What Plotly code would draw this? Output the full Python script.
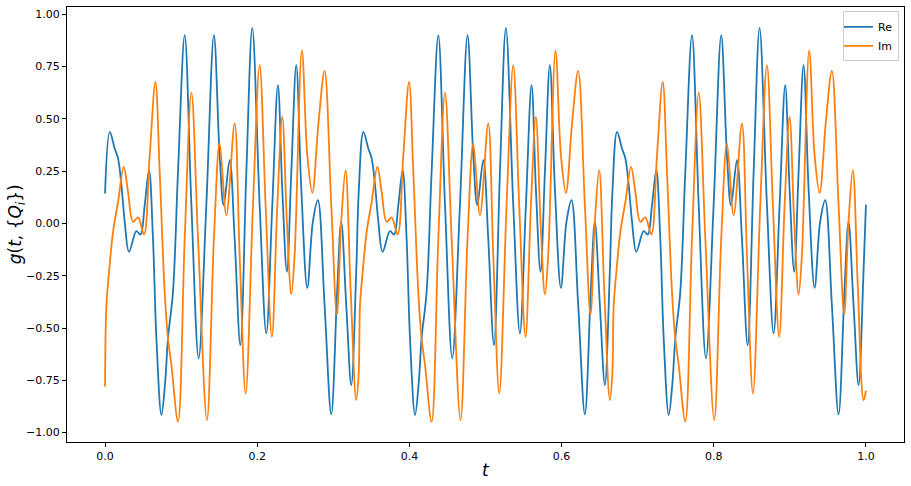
import plotly.graph_objects as go

# ---- data ----
t_re = [
    0.0000, 0.0062, 0.0127, 0.0171, 0.0215, 0.0259, 0.0315, 0.0412, 0.0465, 0.0521,
    0.0578, 0.0630, 0.0675, 0.0741, 0.0790, 0.0827, 0.0893, 0.0959, 0.1047, 0.1135,
    0.1230, 0.1331, 0.1431, 0.1506, 0.1559, 0.1638, 0.1703, 0.1778, 0.1857, 0.1935,
    0.2032, 0.2119, 0.2198, 0.2272, 0.2329, 0.2390, 0.2448, 0.2513, 0.2579, 0.2658,
    0.2731, 0.2797, 0.2885, 0.2973, 0.3052, 0.3104, 0.3170, 0.3236, 0.3301,
    0.3333, 0.3395, 0.3460, 0.3504, 0.3548, 0.3592, 0.3648, 0.3745, 0.3798, 0.3854,
    0.3911, 0.3963, 0.4008, 0.4074, 0.4123, 0.4160, 0.4226, 0.4292, 0.4380, 0.4468,
    0.4563, 0.4664, 0.4764, 0.4839, 0.4892, 0.4971, 0.5036, 0.5111, 0.5190, 0.5268,
    0.5365, 0.5452, 0.5531, 0.5605, 0.5662, 0.5723, 0.5781, 0.5846, 0.5912, 0.5991,
    0.6064, 0.6130, 0.6218, 0.6306, 0.6385, 0.6437, 0.6503, 0.6569, 0.6634,
    0.6667, 0.6729, 0.6794, 0.6838, 0.6882, 0.6926, 0.6982, 0.7079, 0.7132, 0.7188,
    0.7245, 0.7297, 0.7342, 0.7408, 0.7457, 0.7494, 0.7560, 0.7626, 0.7714, 0.7802,
    0.7897, 0.7998, 0.8098, 0.8173, 0.8226, 0.8305, 0.8370, 0.8445, 0.8524, 0.8602,
    0.8699, 0.8786, 0.8865, 0.8939, 0.8996, 0.9057, 0.9115, 0.9180, 0.9246, 0.9325,
    0.9398, 0.9464, 0.9552, 0.9640, 0.9719, 0.9771, 0.9837, 0.9903, 0.9968,
    1.0000,
]
re_vals = [
    0.143, 0.438, 0.358, 0.311, 0.183, 0.008, -0.136, -0.037, -0.053, 0.087,
    0.255, -0.072, -0.550, -0.916, -0.760, -0.550, -0.327, 0.247, 0.900, 0.087,
    -0.645, 0.087, 0.900, 0.327, 0.087, 0.303, -0.072, -0.582, 0.247, 0.935,
    0.087, -0.526, 0.087, 0.661, 0.167, -0.231, 0.247, 0.757, 0.167, -0.308,
    0.008, 0.111, -0.390, -0.913, -0.311, 0.008, -0.390, -0.773, -0.231,
    0.143, 0.438, 0.358, 0.311, 0.183, 0.008, -0.136, -0.037, -0.053, 0.087,
    0.255, -0.072, -0.550, -0.916, -0.760, -0.550, -0.327, 0.247, 0.900, 0.087,
    -0.645, 0.087, 0.900, 0.327, 0.087, 0.303, -0.072, -0.582, 0.247, 0.935,
    0.087, -0.526, 0.087, 0.661, 0.167, -0.231, 0.247, 0.757, 0.167, -0.308,
    0.008, 0.111, -0.390, -0.913, -0.311, 0.008, -0.390, -0.773, -0.231,
    0.143, 0.438, 0.358, 0.311, 0.183, 0.008, -0.136, -0.037, -0.053, 0.087,
    0.255, -0.072, -0.550, -0.916, -0.760, -0.550, -0.327, 0.247, 0.900, 0.087,
    -0.645, 0.087, 0.900, 0.327, 0.087, 0.303, -0.072, -0.582, 0.247, 0.935,
    0.087, -0.526, 0.087, 0.661, 0.167, -0.231, 0.247, 0.757, 0.167, -0.308,
    0.008, 0.111, -0.390, -0.913, -0.311, 0.008, -0.390, -0.773, -0.231,
    0.090,
]

t_im = [
    0.0000, 0.0018, 0.0053, 0.0105, 0.0171, 0.0246, 0.0302, 0.0368, 0.0433, 0.0512,
    0.0587, 0.0662, 0.0718, 0.0784, 0.0827, 0.0872, 0.0959, 0.1047, 0.1135, 0.1222,
    0.1339, 0.1431, 0.1506, 0.1594, 0.1703, 0.1769, 0.1848, 0.1944, 0.2032, 0.2110,
    0.2193, 0.2264, 0.2329, 0.2390, 0.2448, 0.2491, 0.2587, 0.2658, 0.2724, 0.2806,
    0.2885, 0.2973, 0.3047, 0.3104, 0.3161, 0.3227, 0.3301,
    0.3333, 0.3351, 0.3386, 0.3438, 0.3504, 0.3579, 0.3635, 0.3701, 0.3766, 0.3845,
    0.3920, 0.3995, 0.4051, 0.4117, 0.4160, 0.4205, 0.4292, 0.4380, 0.4468, 0.4555,
    0.4672, 0.4764, 0.4839, 0.4927, 0.5036, 0.5102, 0.5181, 0.5277, 0.5365, 0.5443,
    0.5526, 0.5597, 0.5662, 0.5723, 0.5781, 0.5824, 0.5920, 0.5991, 0.6057, 0.6139,
    0.6218, 0.6306, 0.6380, 0.6437, 0.6494, 0.6560, 0.6634,
    0.6667, 0.6685, 0.6720, 0.6772, 0.6838, 0.6913, 0.6969, 0.7035, 0.7100, 0.7179,
    0.7254, 0.7329, 0.7385, 0.7451, 0.7494, 0.7539, 0.7626, 0.7714, 0.7802, 0.7889,
    0.8006, 0.8098, 0.8173, 0.8261, 0.8370, 0.8436, 0.8515, 0.8611, 0.8699, 0.8777,
    0.8860, 0.8931, 0.8996, 0.9057, 0.9115, 0.9158, 0.9254, 0.9325, 0.9391, 0.9473,
    0.9552, 0.9640, 0.9714, 0.9771, 0.9828, 0.9894, 0.9968,
    1.0000,
]
im_vals = [
    -0.780, -0.390, -0.231, -0.040, 0.103, 0.271, 0.151, 0.008, 0.029, -0.053,
    0.327, 0.677, 0.247, -0.330, -0.550, -0.677, -0.948, -0.072, 0.626, -0.072,
    -0.940, -0.072, 0.382, 0.040, 0.478, -0.152, -0.813, 0.087, 0.757, 0.087,
    -0.542, 0.087, 0.510, 0.008, -0.339, -0.152, 0.828, 0.327, 0.146, 0.486,
    0.729, 0.087, -0.435, 0.008, 0.255, -0.311, -0.845,
    -0.720, -0.390, -0.231, -0.040, 0.103, 0.271, 0.151, 0.008, 0.029, -0.053,
    0.327, 0.677, 0.247, -0.330, -0.550, -0.677, -0.948, -0.072, 0.626, -0.072,
    -0.940, -0.072, 0.382, 0.040, 0.478, -0.152, -0.813, 0.087, 0.757, 0.087,
    -0.542, 0.087, 0.510, 0.008, -0.339, -0.152, 0.828, 0.327, 0.146, 0.486,
    0.729, 0.087, -0.435, 0.008, 0.255, -0.311, -0.845,
    -0.720, -0.390, -0.231, -0.040, 0.103, 0.271, 0.151, 0.008, 0.029, -0.053,
    0.327, 0.677, 0.247, -0.330, -0.550, -0.677, -0.948, -0.072, 0.626, -0.072,
    -0.940, -0.072, 0.382, 0.040, 0.478, -0.152, -0.813, 0.087, 0.757, 0.087,
    -0.542, 0.087, 0.510, 0.008, -0.339, -0.152, 0.828, 0.327, 0.146, 0.486,
    0.729, 0.087, -0.435, 0.008, 0.255, -0.311, -0.845,
    -0.800,
]

x_tickvals = [0.0, 0.2, 0.4, 0.6, 0.8, 1.0]
x_ticktext = ["0.0", "0.2", "0.4", "0.6", "0.8", "1.0"]
y_tickvals = [-1.0, -0.75, -0.5, -0.25, 0.0, 0.25, 0.5, 0.75, 1.0]
y_ticktext = ["\u22121.00", "\u22120.75", "\u22120.50", "\u22120.25", "0.00",
              "0.25", "0.50", "0.75", "1.00"]

series_names = ["Re", "Im"]
series_colors = ["#1f77b4", "#ff7f0e"]

FONT = "DejaVu Sans"

fig = go.Figure()
fig.add_trace(go.Scatter(x=t_re, y=re_vals, mode="lines", name=series_names[0],
                         line=dict(color=series_colors[0], width=1.8,
                                   shape="spline", smoothing=1.0)))
fig.add_trace(go.Scatter(x=t_im, y=im_vals, mode="lines", name=series_names[1],
                         line=dict(color=series_colors[1], width=1.8,
                                   shape="spline", smoothing=1.0)))

axis_common = dict(showgrid=False, zeroline=False, showline=True, linecolor="#000000",
                   linewidth=1, mirror=True, ticks="outside", ticklen=4,
                   tickcolor="#000000", tickwidth=1, automargin=False,
                   tickfont=dict(family=FONT, size=11, color="#000000"))

fig.update_layout(
    width=911, height=486,
    margin=dict(l=67, r=7, t=7, b=44, pad=0, autoexpand=False),
    paper_bgcolor="white", plot_bgcolor="white",
    font=dict(family=FONT, color="#000000"),
    xaxis=dict(range=[-0.05, 1.05], tickvals=x_tickvals, ticktext=x_ticktext,
               **axis_common),
    yaxis=dict(range=[-1.045, 1.035], tickvals=y_tickvals, ticktext=y_ticktext,
               **axis_common),
    legend=dict(x=0.994, y=0.990, xanchor="right", yanchor="top",
                bgcolor="rgba(255,255,255,0.8)", bordercolor="#cccccc", borderwidth=1,
                font=dict(family=FONT, size=11, color="#000000"),
                itemwidth=30, tracegroupgap=0, indentation=-6),
    showlegend=True,
    annotations=[
        dict(text="<i>t</i>", xref="paper", yref="paper", x=0.5, y=-0.064,
             xanchor="center", yanchor="middle", showarrow=False,
             font=dict(family=FONT, size=17, color="#000000")),
        dict(text="<i>g</i>(<i>t</i>, {<i>Q</i><sub><i>i</i></sub>})",
             xref="paper", yref="paper", x=-0.06, y=0.5, textangle=-90,
             xanchor="center", yanchor="middle", showarrow=False,
             font=dict(family=FONT, size=17, color="#000000")),
    ],
)

fig.write_html(
    "out.html",
    config={"displayModeBar": False},
    post_script="document.body.style.margin='0';document.body.style.padding='0';",
)
